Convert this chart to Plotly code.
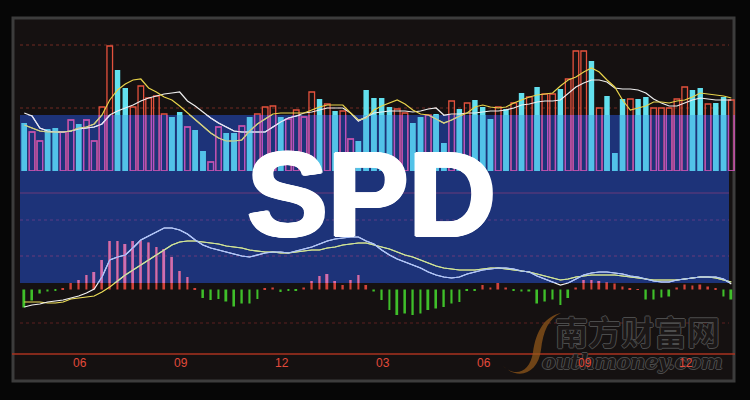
import plotly.graph_objects as go

W, H = 750, 400


def fx(p):
    return p / W


def fy(p):
    return 1 - p / H


# ---------------- data (weekly) ----------------
week_index = list(range(92))

# u = up week (hollow red bar), d = down week (filled cyan bar)
direction = ("duudduuduu" "uudduuuuud" "dudduuddud" "uuuduuuudu" "duuddddduu"
             "dduddududd" "dudududuud" "uuududddud" "duuuuudduddu")

volume = [48, 39, 30, 42, 43, 39, 51, 47, 51, 30,
          64, 125, 101, 83, 64, 85, 73, 75, 57, 54,
          59, 44, 41, 20, 9, 44, 38, 38, 45, 54,
          57, 64, 65, 54, 52, 61, 54, 79, 72, 67,
          60, 60, 32, 30, 81, 73, 73, 64, 62, 58,
          48, 54, 56, 57, 28, 70, 62, 68, 71, 64,
          52, 64, 62, 68, 78, 74, 84, 77, 77, 82,
          92, 120, 120, 110, 63, 75, 18, 72, 72, 72,
          74, 63, 63, 63, 72, 84, 81, 83, 67, 68, 74, 71]

vol_ma5 = [46, 43, 40, 39, 39, 39, 40, 43, 44, 47,
           56, 71, 81, 87, 91, 92, 83, 79, 74, 71,
           65, 58, 51, 44, 38, 33, 30, 30, 31, 40,
           47, 52, 57, 58, 58, 58, 58, 61, 64, 66,
           66, 66, 58, 51, 53, 61, 65, 68, 71, 67,
           61, 57, 56, 52, 48, 51, 55, 58, 64, 66,
           64, 63, 64, 68, 71, 74, 76, 77, 78, 85,
           91, 94, 99, 103, 99, 91, 84, 71, 61, 63,
           65, 69, 69, 68, 70, 71, 74, 78, 77, 76, 75, 73]

vol_ma10 = [58, 55, 43, 40, 39, 39, 40, 42, 43, 44,
            47, 56, 60, 63, 66, 70, 73, 75, 77, 78,
            79, 70, 65, 59, 53, 48, 44, 40, 39, 39,
            39, 39, 44, 49, 53, 55, 58, 59, 61, 63,
            63, 63, 58, 50, 54, 58, 59, 60, 60, 60,
            59, 60, 62, 63, 56, 57, 57, 58, 58, 59,
            60, 60, 61, 63, 66, 67, 69, 70, 70, 71,
            78, 84, 88, 91, 91, 89, 83, 82, 82, 81,
            78, 72, 68, 65, 65, 68, 71, 73, 72, 71, 71, 71]

macd_hist = [-18, -11, -4, -2, -1, 1, 6.5, 9.5, 14.5, 17.5,
             29.5, 48.5, 48.5, 45.5, 48.5, 49, 47, 42.5, 40.5, 32.5,
             18.5, 12.5, 1.5, -8.5, -10.5, -9.5, -12, -17, -14, -14,
             -9.5, 1, 2, -2.5, -1.5, -1.5, 2, 8.5, 13.5, 15.5,
             8.5, 4.5, 9.5, 14.5, 4.5, -2, -10.5, -20.5, -25.5, -24,
             -25.5, -24, -20.5, -19, -17.5, -14, -12.5, -1, -1, 4.5,
             2, 6.5, 2, -1, -2, -2, -14, -12, -10, -15.5,
             -8.5, 2, 9.5, 9.5, 8.5, 7, 6, 3, 1, 0.5,
             -10, -10, -8, -7, 2, 5, 4, 5, 3, 1, -7, -10]

macd_dif = [-17.5, -15.5, -14.5, -12.5, -11.5, -10.5, -8.5, -6.5, -3.5, 0.5,
            12.5, 29.5, 32.5, 34.5, 41.5, 49.5, 53.5, 57.5, 61.5, 61.5,
            59.5, 55.5, 49.5, 44.5, 41.5, 39.5, 37.5, 35.5, 33.5, 32.5,
            34.5, 36.5, 37.5, 37.5, 36.5, 38.5, 40.5, 42.5, 45.5, 48.5,
            50.5, 51.5, 52.5, 52.5, 48.5, 45.5, 39.5, 34.5, 30.5, 27.5,
            24.5, 21.5, 17.5, 14.5, 12.5, 11.5, 12.5, 15.5, 17.5, 19.5,
            20.5, 21.5, 21.5, 20.5, 18.5, 17.5, 13.5, 10.5, 7.5, 4.5,
            6.5, 10.5, 14.5, 16.5, 17.5, 17.5, 16.5, 15.5, 13.5, 12.5,
            10.5, 8.5, 7.5, 7.5, 9.5, 10.5, 11.5, 12.5, 12.5, 12.5, 10.5, 5.5]

macd_dea = [-12.5, -12.5, -12.5, -13.5, -13.5, -12.5, -9.5, -8.5, -7.5, -6.5,
            -2.5, 2.5, 8.5, 14.5, 19.5, 24.5, 29.5, 34.5, 39.5, 44.5,
            47.5, 48.5, 48.5, 47.5, 46.5, 45.5, 43.5, 42.5, 41.5, 39.5,
            38.5, 37.5, 37.5, 36.5, 36.5, 37.5, 38.5, 39.5, 39.5, 41.5,
            42.5, 44.5, 45.5, 46.5, 46.5, 44.5, 42.5, 40.5, 37.5, 34.5,
            32.5, 29.5, 26.5, 23.5, 21.5, 20.5, 19.5, 19.5, 19.5, 20.5,
            21.5, 21.5, 20.5, 19.5, 18.5, 17.5, 15.5, 13.5, 11.5, 9.5,
            10.5, 12.5, 13.5, 14.5, 14.5, 14.5, 14.5, 13.5, 12.5, 11.5,
            10.5, 9.5, 9.5, 9.5, 9.5, 10.5, 11.5, 12.5, 12.5, 11.5, 9.5, 7.5]

tick_positions = [7.2, 20.2, 33.2, 46.2, 59.2, 72.2, 85.2]
tick_labels = ["06", "09", "12", "03", "06", "09", "12"]

title_text = "SPD"
watermark_cn = "南方财富网"
watermark_en = "outhmoney.com"

# ---------------- figure ----------------
fig = go.Figure()

up_x = [i for i in week_index if direction[i] == "u"]
dn_x = [i for i in week_index if direction[i] == "d"]
pos_x = [i for i in week_index if macd_hist[i] >= 0]
neg_x = [i for i in week_index if macd_hist[i] < 0]


def add_volume(yax, up_col, dn_col, ma5_col, ma10_col):
    fig.add_bar(x=up_x, y=[volume[i] for i in up_x], width=0.72,
                marker=dict(color="rgba(0,0,0,0)", line=dict(color=up_col, width=1.3)),
                xaxis="x", yaxis=yax, hoverinfo="skip")
    fig.add_bar(x=dn_x, y=[volume[i] for i in dn_x], width=0.7,
                marker=dict(color=dn_col, line=dict(width=0)),
                xaxis="x", yaxis=yax, hoverinfo="skip")
    fig.add_scatter(x=week_index, y=vol_ma10, mode="lines",
                    line=dict(color=ma10_col, width=1.2), xaxis="x", yaxis=yax)
    fig.add_scatter(x=week_index, y=vol_ma5, mode="lines",
                    line=dict(color=ma5_col, width=1.2), xaxis="x", yaxis=yax)


def add_macd(yax, pos_col, neg_col, dif_col, dea_col):
    fig.add_bar(x=pos_x, y=[macd_hist[i] for i in pos_x], width=0.24,
                marker=dict(color=pos_col, line=dict(width=0)),
                xaxis="x", yaxis=yax, hoverinfo="skip")
    fig.add_bar(x=neg_x, y=[macd_hist[i] for i in neg_x], width=0.24,
                marker=dict(color=neg_col, line=dict(width=0)),
                xaxis="x", yaxis=yax, hoverinfo="skip")
    fig.add_scatter(x=week_index, y=macd_dea, mode="lines",
                    line=dict(color=dea_col, width=1.2), xaxis="x", yaxis=yax)
    fig.add_scatter(x=week_index, y=macd_dif, mode="lines",
                    line=dict(color=dif_col, width=1.2), xaxis="x", yaxis=yax)


# plain colours (dark area)
add_volume("y", "#e4513d", "#62e0ee", "#e8d34a", "#eeeeee")
add_macd("y2", "#d2433a", "#3fbf2a", "#f2f2f2", "#efe05a")
# tinted colours inside the blue band
add_volume("y3", "#b552c4", "#52c2e8", "#cfcf8c", "#e6e6f6")
add_macd("y4", "#cc6fb6", "#3fbf2a", "#a9c2ff", "#c9e6a6")

axis_off = dict(visible=False, fixedrange=True, anchor="x")

fig.update_layout(
    width=W, height=H,
    margin=dict(l=0, r=0, t=0, b=0, autoexpand=False),
    paper_bgcolor="#060606",
    plot_bgcolor="rgba(0,0,0,0)",
    showlegend=False,
    barmode="overlay",
    xaxis=dict(domain=[fx(20.4), fx(735.2)], range=[-0.5, 91.5],
               anchor="free", position=fy(355), showticklabels=False,
               showgrid=False, zeroline=False, showline=False, ticks="",
               fixedrange=True),
    yaxis=dict(domain=[fy(171), fy(25)], range=[0, 146], **axis_off),
    yaxis2=dict(domain=[fy(345), fy(205)], range=[-55.5, 84.5], **axis_off),
    yaxis3=dict(domain=[fy(171), fy(115)], range=[0, 56], **axis_off),
    yaxis4=dict(domain=[fy(283), fy(205)], range=[6.5, 84.5], **axis_off),
)

shapes = []
# panel
shapes.append(dict(type="rect", xref="paper", yref="paper", layer="below",
                   x0=fx(13), x1=fx(734), y0=fy(381), y1=fy(18),
                   fillcolor="#151111", line=dict(color="#3c3c3c", width=3)))
# blue band
shapes.append(dict(type="rect", xref="paper", yref="paper", layer="below",
                   x0=fx(20), x1=fx(729), y0=fy(283), y1=fy(115),
                   fillcolor="#1d3379", line=dict(width=0)))


def hline(py, color, dash="dot", width=1, x0=20, x1=729):
    shapes.append(dict(type="line", xref="paper", yref="paper", layer="below",
                       x0=fx(x0), x1=fx(x1), y0=fy(py), y1=fy(py),
                       line=dict(color=color, width=width, dash=dash)))


hline(45, "#702a22")
hline(108, "#702a22")
hline(193, "#6b3a7a", dash="solid")
hline(220, "#5a3c86")
hline(256, "#6b3a7a")
hline(323, "#5c2020")
hline(354, "#a8321f", dash="solid", width=1.5, x0=12, x1=735)


def ppath(segments):
    out = []
    for cmd, coords in segments:
        out.append(cmd + " " + " ".join(f"{fx(a):.5f},{fy(b):.5f}" for a, b in coords))
    return " ".join(out) + " Z"


# watermark swoosh (decorative)
swoosh = ppath([("M", [(503, 366)]),
                ("C", [(515, 377), (530, 373), (533, 352)]),
                ("C", [(536, 331), (545, 316), (561, 313)]),
                ("C", [(549, 318), (543, 331), (541, 350)]),
                ("C", [(538, 373), (519, 381), (503, 366)])])
shapes.append(dict(type="path", xref="paper", yref="paper", layer="below",
                   path=swoosh, fillcolor="rgba(150,90,25,0.7)",
                   line=dict(width=0)))
fig.update_layout(shapes=shapes)

outline = "1px 0 0 #4c4c4c, -1px 0 0 #4c4c4c, 0 1px 0 #4c4c4c, 0 -1px 0 #4c4c4c"
fig.add_annotation(xref="paper", yref="paper", x=fx(637), y=fy(331), text=watermark_cn,
                   xanchor="center", yanchor="middle",
                   showarrow=False, font=dict(size=33, color="#1b1717",
                                              family="Noto Sans CJK SC", weight="bold",
                                              shadow=outline))
fig.add_annotation(xref="paper", yref="paper", x=fx(632), y=fy(362), text=watermark_en,
                   xanchor="center", yanchor="middle",
                   showarrow=False, font=dict(size=20.5, color="#1b1717", family="DejaVu Serif",
                                              style="italic", weight="bold", shadow=outline))

# month tick labels, placed on the shared x scale (drawn above the watermark)
for pos, lab in zip(tick_positions, tick_labels):
    fig.add_annotation(xref="x", yref="paper", x=pos, y=fy(363), text=lab,
                       xanchor="center", yanchor="middle", showarrow=False,
                       font=dict(size=12, color="#e24a3b", family="Liberation Sans"))

thick = ("2px 0 0 #fff, -2px 0 0 #fff, 0 1px 0 #fff, 0 -1px 0 #fff, "
         "1px 1px 0 #fff, -1px -1px 0 #fff, 1px -1px 0 #fff, -1px 1px 0 #fff")
fig.add_annotation(xref="paper", yref="paper", x=fx(371), y=fy(194), text=title_text,
                   xanchor="center", yanchor="middle",
                   showarrow=False, font=dict(size=121, color="#ffffff",
                                              family="Liberation Sans", weight="bold",
                                              shadow=thick))

fig.write_html("out.html", post_script="document.body.style.margin='0';",
               config={"displayModeBar": False})
